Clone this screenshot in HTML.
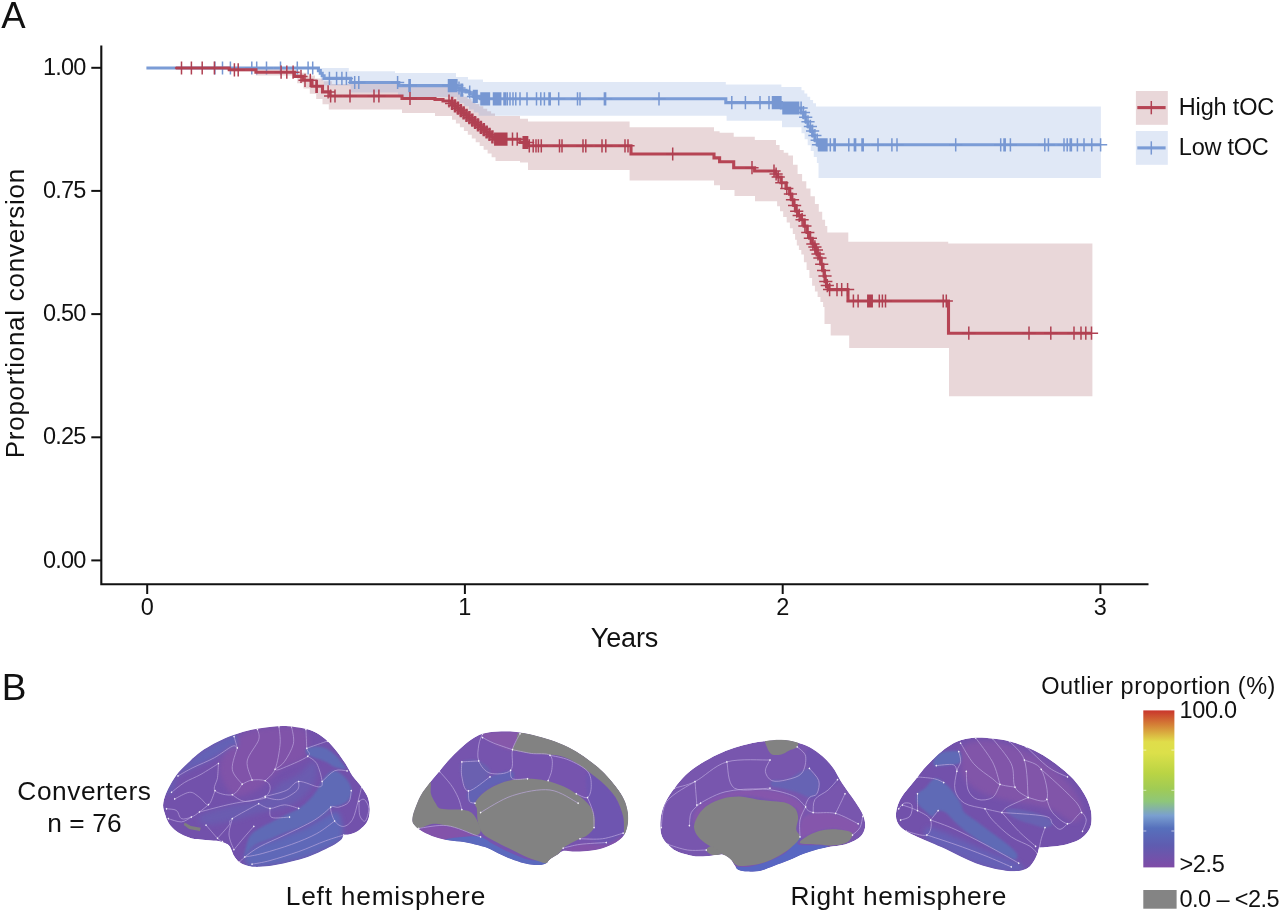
<!DOCTYPE html>
<html><head><meta charset="utf-8"><title>Figure</title>
<style>
html,body{margin:0;padding:0;background:#fff;}
svg{display:block;}
text{font-family:"Liberation Sans",Arial,sans-serif;fill:#111;}
</style></head>
<body>
<svg width="1280" height="913" viewBox="0 0 1280 913">
<defs>
<linearGradient id="cbar" x1="0" y1="0" x2="0" y2="1">
<stop offset="0" stop-color="#C9352C"/>
<stop offset="0.09" stop-color="#D47F36"/>
<stop offset="0.2" stop-color="#E0DD4A"/>
<stop offset="0.27" stop-color="#DCE04A"/>
<stop offset="0.40" stop-color="#BAD444"/>
<stop offset="0.50" stop-color="#A0CB55"/>
<stop offset="0.58" stop-color="#8EC67A"/>
<stop offset="0.67" stop-color="#7A9FD0"/>
<stop offset="0.75" stop-color="#5670BC"/>
<stop offset="0.86" stop-color="#5F5CB0"/>
<stop offset="1" stop-color="#7F4BA6"/>
</linearGradient>
</defs>
<rect width="1280" height="913" fill="#fff"/>
<g id="chart">
<path d="M175.7 68.0H294.0V70.0H298.2V72.8H306.6V75.6H315.0V78.4H323.4V81.2H331.8V84.0H402.0V85.5H450.0V87.0H452.0V89.4H455.9V91.8H459.8V94.2H463.7V96.7H467.6V99.1H471.5V101.5H475.5V103.9H479.4V106.3H483.3V108.8H487.2V111.2H491.1V113.6H495.0V116.0H520.0V118.7H528.0V121.4H629.6V127.3H714.0V131.3H719.6V132.8H733.7V136.7H754.8V140.0H774.2V140.0H776.0V145.0H779.6V150.0H783.7V152.8H788.3V155.6H793.0V164.8H797.6V174.0H802.1V181.2H806.3V188.4H810.5V196.2H814.9V204.0H818.8V211.8H822.2V219.7H825.1V226.1H827.3V232.5H848.3V241.8H948.2V243.6H1092.4V396.3H949.0V348.1H849.2V335.6H830.7V324.0H824.5V307.0H823.1V302.0H820.4V297.0H817.6V291.4H814.9V285.8H812.1V277.9H809.4V270.0H806.6V262.2H803.9V254.5H801.3V249.9H798.9V245.4H796.8V239.7H795.1V234.0H792.8V228.3H789.9V222.6H786.7V216.9H783.2V211.2H780.0V206.2H777.1V201.2H775.7V201.2H755.0V196.0H734.5V190.0H720.0V185.3H714.0V180.6H629.6V170.0H528.0V162.6H520.0V161.0H495.5V157.2H491.6V153.5H487.6V149.8H483.6V146.0H479.7V142.2H475.7V138.5H471.8V134.8H467.8V131.0H463.9V127.2H459.9V123.5H455.9V119.8H452.0V116.0H450.0V116.0H435.0V113.0H402.0V109.4H328.8V104.2H322.5V98.9H316.2V93.7H309.8V88.5H303.5V83.2H297.2V78.0H294.0V75.5H255.9V71.5H229.3V68.0Z" fill="#9B4952" fill-opacity="0.22"/>
<path d="M146.4 68.0H348.8V71.2H395.0V73.0H456.0V77.0H468.0V79.4H483.0V81.9H725.8V84.6H781.4V87.0H800.0V87.0H801.5V90.3H804.4V93.5H807.3V96.8H810.2V100.1H813.1V103.3H816.0V106.6H1100.9V177.9H818.5V163.0H816.9V157.1H813.8V151.1H810.7V145.2H807.7V139.2H804.6V133.2H801.5V127.3H800.0V127.3H782.0V120.8H726.6V115.8H478.6V112.6H473.8V109.5H469.0V106.3H464.2V103.2H459.4V100.0H457.0V97.0H398.0V92.5H350.6V85.6H323.8V80.4H321.2V75.2H318.8V70.0H317.5V68.0Z" fill="#7B9CD6" fill-opacity="0.23"/>
<path d="M146.4 68.0H317.5V68.0H318.4V70.6H320.3V73.2H322.2V75.8H324.1V78.4H350.6V82.5H398.8V85.6H457.0V88.0H460.0V90.2H466.0V92.0H469.7V94.0H473.0V96.4H480.5V98.8H725.8V102.6H781.4V108.0H800.0V108.0H801.1V112.6H803.5V117.2H805.8V121.8H808.0V126.4H810.4V131.0H812.6V135.6H814.9V140.2H817.2V144.8H1100.6V144.8" fill="none" stroke="#7B9CD6" stroke-width="3.1"/>
<path d="M214.9 61.4v13.2M208.3 68.0h13.2M222.5 61.4v13.2M215.9 68.0h13.2M230.4 61.4v13.2M223.8 68.0h13.2M251.8 61.4v13.2M245.2 68.0h13.2M256.7 61.4v13.2M250.1 68.0h13.2M266.5 61.4v13.2M259.9 68.0h13.2M280.5 61.4v13.2M273.9 68.0h13.2M297.3 61.4v13.2M290.7 68.0h13.2M308.1 61.4v13.2M301.5 68.0h13.2M312.7 61.4v13.2M306.1 68.0h13.2M329.4 71.8v13.2M322.8 78.4h13.2M336.6 71.8v13.2M330.0 78.4h13.2M341.9 71.8v13.2M335.3 78.4h13.2M346.4 71.8v13.2M339.8 78.4h13.2M354.7 75.9v13.2M348.1 82.5h13.2M358.8 75.9v13.2M352.1 82.5h13.2M397.6 75.9v13.2M391.0 82.5h13.2M409.0 79.0v13.2M402.4 85.6h13.2M410.2 79.0v13.2M403.6 85.6h13.2M448.5 79.0v13.2M441.9 85.6h13.2M449.7 79.0v13.2M443.1 85.6h13.2M450.9 79.0v13.2M444.3 85.6h13.2M452.1 79.0v13.2M445.5 85.6h13.2M453.3 79.0v13.2M446.7 85.6h13.2M454.5 79.0v13.2M447.9 85.6h13.2M455.7 79.0v13.2M449.1 85.6h13.2M456.9 79.0v13.2M450.3 85.6h13.2M459.0 81.4v13.2M452.4 88.0h13.2M461.0 83.6v13.2M454.4 90.2h13.2M462.5 83.6v13.2M455.9 90.2h13.2M469.7 85.4v13.2M463.1 92.0h13.2M473.5 89.8v13.2M466.9 96.4h13.2M474.7 89.8v13.2M468.1 96.4h13.2M475.9 89.8v13.2M469.3 96.4h13.2M477.1 89.8v13.2M470.5 96.4h13.2M481.0 92.2v13.2M474.4 98.8h13.2M482.2 92.2v13.2M475.6 98.8h13.2M483.4 92.2v13.2M476.8 98.8h13.2M484.6 92.2v13.2M478.0 98.8h13.2M485.8 92.2v13.2M479.2 98.8h13.2M487.0 92.2v13.2M480.4 98.8h13.2M488.2 92.2v13.2M481.6 98.8h13.2M489.4 92.2v13.2M482.8 98.8h13.2M493.5 92.2v13.2M486.9 98.8h13.2M494.7 92.2v13.2M488.1 98.8h13.2M495.9 92.2v13.2M489.3 98.8h13.2M497.1 92.2v13.2M490.5 98.8h13.2M498.3 92.2v13.2M491.7 98.8h13.2M499.5 92.2v13.2M492.9 98.8h13.2M500.7 92.2v13.2M494.1 98.8h13.2M504.0 92.2v13.2M497.4 98.8h13.2M505.5 92.2v13.2M498.9 98.8h13.2M507.3 92.2v13.2M500.7 98.8h13.2M510.0 92.2v13.2M503.4 98.8h13.2M513.0 92.2v13.2M506.4 98.8h13.2M515.8 92.2v13.2M509.2 98.8h13.2M520.0 92.2v13.2M513.4 98.8h13.2M527.0 92.2v13.2M520.4 98.8h13.2M536.5 92.2v13.2M529.9 98.8h13.2M540.8 92.2v13.2M534.2 98.8h13.2M544.4 92.2v13.2M537.8 98.8h13.2M549.0 92.2v13.2M542.4 98.8h13.2M550.2 92.2v13.2M543.6 98.8h13.2M558.7 92.2v13.2M552.1 98.8h13.2M577.5 92.2v13.2M570.9 98.8h13.2M580.0 92.2v13.2M573.4 98.8h13.2M604.4 92.2v13.2M597.8 98.8h13.2M605.6 92.2v13.2M599.0 98.8h13.2M659.0 92.2v13.2M652.4 98.8h13.2M731.8 96.0v13.2M725.2 102.6h13.2M745.4 96.0v13.2M738.8 102.6h13.2M760.0 96.0v13.2M753.4 102.6h13.2M769.0 96.0v13.2M762.4 102.6h13.2M772.5 96.0v13.2M765.9 102.6h13.2M773.7 96.0v13.2M767.1 102.6h13.2M774.9 96.0v13.2M768.3 102.6h13.2M776.1 96.0v13.2M769.5 102.6h13.2M777.3 96.0v13.2M770.7 102.6h13.2M778.5 96.0v13.2M771.9 102.6h13.2M779.7 96.0v13.2M773.1 102.6h13.2M780.9 96.0v13.2M774.3 102.6h13.2M783.0 101.4v13.2M776.4 108.0h13.2M784.2 101.4v13.2M777.6 108.0h13.2M785.4 101.4v13.2M778.8 108.0h13.2M786.6 101.4v13.2M780.0 108.0h13.2M787.8 101.4v13.2M781.2 108.0h13.2M789.0 101.4v13.2M782.4 108.0h13.2M790.2 101.4v13.2M783.6 108.0h13.2M791.4 101.4v13.2M784.8 108.0h13.2M792.6 101.4v13.2M786.0 108.0h13.2M793.8 101.4v13.2M787.2 108.0h13.2M795.0 101.4v13.2M788.4 108.0h13.2M796.2 101.4v13.2M789.6 108.0h13.2M797.4 101.4v13.2M790.8 108.0h13.2M798.6 101.4v13.2M792.0 108.0h13.2M801.1 101.4v13.2M794.5 108.0h13.2M803.5 106.0v13.2M796.9 112.6h13.2M805.8 110.6v13.2M799.1 117.2h13.2M808.0 115.2v13.2M801.4 121.8h13.2M810.4 119.8v13.2M803.8 126.4h13.2M812.6 124.4v13.2M806.0 131.0h13.2M814.9 129.0v13.2M808.3 135.6h13.2M817.2 133.6v13.2M810.6 140.2h13.2M818.5 138.2v13.2M811.9 144.8h13.2M819.7 138.2v13.2M813.1 144.8h13.2M820.9 138.2v13.2M814.3 144.8h13.2M822.1 138.2v13.2M815.5 144.8h13.2M823.3 138.2v13.2M816.7 144.8h13.2M824.5 138.2v13.2M817.9 144.8h13.2M825.7 138.2v13.2M819.1 144.8h13.2M826.9 138.2v13.2M820.3 144.8h13.2M830.3 138.2v13.2M823.7 144.8h13.2M834.0 138.2v13.2M827.4 144.8h13.2M835.2 138.2v13.2M828.6 144.8h13.2M848.8 138.2v13.2M842.2 144.8h13.2M854.4 138.2v13.2M847.8 144.8h13.2M855.6 138.2v13.2M849.0 144.8h13.2M862.0 138.2v13.2M855.4 144.8h13.2M863.2 138.2v13.2M856.6 144.8h13.2M878.0 138.2v13.2M871.4 144.8h13.2M891.9 138.2v13.2M885.3 144.8h13.2M897.0 138.2v13.2M890.4 144.8h13.2M955.7 138.2v13.2M949.1 144.8h13.2M1000.7 138.2v13.2M994.1 144.8h13.2M1004.0 138.2v13.2M997.4 144.8h13.2M1005.2 138.2v13.2M998.6 144.8h13.2M1010.4 138.2v13.2M1003.8 144.8h13.2M1044.8 138.2v13.2M1038.2 144.8h13.2M1048.4 138.2v13.2M1041.8 144.8h13.2M1064.0 138.2v13.2M1057.4 144.8h13.2M1067.2 138.2v13.2M1060.6 144.8h13.2M1070.2 138.2v13.2M1063.6 144.8h13.2M1071.4 138.2v13.2M1064.8 144.8h13.2M1077.4 138.2v13.2M1070.8 144.8h13.2M1084.0 138.2v13.2M1077.4 144.8h13.2M1091.8 138.2v13.2M1085.2 144.8h13.2M1100.6 138.2v13.2M1094.0 144.8h13.2" fill="none" stroke="#7797D2" stroke-width="1.5"/>
<path d="M175.7 68.0H229.3V69.8H255.9V72.2H294.4V76.4H303.0V80.3H312.0V86.3H322.5V91.9H330.0V96.0H402.0V98.5H435.0V99.5H443.0V101.0H450.0V101.0H451.4V103.4H454.3V105.8H457.2V108.2H460.1V110.5H462.9V112.9H465.8V115.3H468.7V117.7H471.6V120.1H474.4V122.5H477.3V124.9H480.2V127.3H483.1V129.6H485.9V132.0H488.8V134.4H491.7V136.8H494.6V139.2H520.0V142.5H528.0V145.8H631.0V154.0H714.0V157.9H719.6V161.8H733.7V167.7H754.6V171.0H774.2V171.0H775.3V174.0H777.4V177.0H781.0V182.7H786.0V188.4H789.6V194.1H791.7V199.8H793.8V205.5H796.0V211.2H798.4V215.4H801.3V219.7H804.1V226.1H807.0V232.5H809.6V238.2H812.1V243.9H814.1V246.9H815.6V250.0H817.2V254.0H819.1V258.0H821.0V264.3H822.8V270.6H824.2V276.1H825.0V281.6H826.5V285.6H828.9V289.6H848.0V301.0H948.5V333.2H1092.0V333.2" fill="none" stroke="#B64454" stroke-width="3.1"/>
<path d="M181.5 61.4v13.2M174.9 68.0h13.2M191.4 61.4v13.2M184.8 68.0h13.2M202.2 61.4v13.2M195.6 68.0h13.2M214.4 61.4v13.2M207.8 68.0h13.2M234.4 63.2v13.2M227.8 69.8h13.2M238.2 63.2v13.2M231.6 69.8h13.2M281.1 65.6v13.2M274.5 72.2h13.2M286.8 65.6v13.2M280.1 72.2h13.2M293.1 65.6v13.2M286.5 72.2h13.2M301.0 69.8v13.2M294.4 76.4h13.2M305.0 73.7v13.2M298.4 80.3h13.2M310.3 73.7v13.2M303.7 80.3h13.2M316.0 79.7v13.2M309.4 86.3h13.2M317.2 79.7v13.2M310.6 86.3h13.2M328.1 85.3v13.2M321.5 91.9h13.2M330.6 89.4v13.2M324.0 96.0h13.2M335.0 89.4v13.2M328.4 96.0h13.2M350.0 89.4v13.2M343.4 96.0h13.2M374.0 89.4v13.2M367.4 96.0h13.2M378.9 89.4v13.2M372.3 96.0h13.2M410.0 91.9v13.2M403.4 98.5h13.2M449.0 94.4v13.2M442.4 101.0h13.2M455.5 99.2v13.2M448.9 105.8h13.2M458.0 101.6v13.2M451.4 108.2h13.2M452.6 96.8v13.2M446.0 103.4h13.2M455.5 99.2v13.2M448.9 105.8h13.2M458.4 101.6v13.2M451.8 108.2h13.2M461.3 104.0v13.2M454.7 110.5h13.2M464.1 106.3v13.2M457.5 112.9h13.2M467.0 108.7v13.2M460.4 115.3h13.2M469.9 111.1v13.2M463.3 117.7h13.2M472.8 113.5v13.2M466.2 120.1h13.2M475.6 115.9v13.2M469.0 122.5h13.2M478.5 118.3v13.2M471.9 124.9h13.2M481.4 120.7v13.2M474.8 127.3h13.2M484.3 123.0v13.2M477.7 129.6h13.2M487.1 125.4v13.2M480.5 132.0h13.2M490.0 127.8v13.2M483.4 134.4h13.2M492.9 130.2v13.2M486.3 136.8h13.2M495.8 132.6v13.2M489.2 139.2h13.2M451.6 96.8v13.2M445.0 103.4h13.2M454.5 99.2v13.2M447.9 105.8h13.2M457.4 101.6v13.2M450.8 108.2h13.2M460.3 104.0v13.2M453.7 110.5h13.2M463.1 106.3v13.2M456.5 112.9h13.2M466.0 108.7v13.2M459.4 115.3h13.2M468.9 111.1v13.2M462.3 117.7h13.2M471.8 113.5v13.2M465.2 120.1h13.2M474.6 115.9v13.2M468.0 122.5h13.2M477.5 118.3v13.2M470.9 124.9h13.2M480.4 120.7v13.2M473.8 127.3h13.2M483.3 123.0v13.2M476.7 129.6h13.2M486.1 125.4v13.2M479.5 132.0h13.2M489.0 127.8v13.2M482.4 134.4h13.2M491.9 130.2v13.2M485.3 136.8h13.2M494.8 132.6v13.2M488.2 139.2h13.2M496.0 132.6v13.2M489.4 139.2h13.2M497.2 132.6v13.2M490.6 139.2h13.2M498.4 132.6v13.2M491.8 139.2h13.2M499.6 132.6v13.2M493.0 139.2h13.2M500.8 132.6v13.2M494.2 139.2h13.2M502.0 132.6v13.2M495.4 139.2h13.2M503.2 132.6v13.2M496.6 139.2h13.2M504.4 132.6v13.2M497.8 139.2h13.2M505.6 132.6v13.2M499.0 139.2h13.2M506.8 132.6v13.2M500.2 139.2h13.2M512.5 132.6v13.2M505.9 139.2h13.2M517.2 132.6v13.2M510.6 139.2h13.2M523.2 135.9v13.2M516.6 142.5h13.2M524.3 135.9v13.2M517.7 142.5h13.2M525.4 135.9v13.2M518.8 142.5h13.2M526.5 135.9v13.2M519.9 142.5h13.2M527.6 135.9v13.2M521.0 142.5h13.2M529.3 139.2v13.2M522.7 145.8h13.2M533.2 139.2v13.2M526.6 145.8h13.2M536.0 139.2v13.2M529.4 145.8h13.2M538.4 139.2v13.2M531.8 145.8h13.2M541.3 139.2v13.2M534.7 145.8h13.2M559.5 139.2v13.2M552.9 145.8h13.2M562.0 139.2v13.2M555.4 145.8h13.2M583.0 139.2v13.2M576.4 145.8h13.2M585.8 139.2v13.2M579.2 145.8h13.2M602.0 139.2v13.2M595.4 145.8h13.2M605.8 139.2v13.2M599.2 145.8h13.2M625.0 139.2v13.2M618.4 145.8h13.2M628.0 139.2v13.2M621.4 145.8h13.2M672.7 147.4v13.2M666.1 154.0h13.2M752.0 161.1v13.2M745.4 167.7h13.2M774.0 164.4v13.2M767.4 171.0h13.2M776.1 167.4v13.2M769.5 174.0h13.2M778.2 170.4v13.2M771.6 177.0h13.2M781.8 176.1v13.2M775.2 182.7h13.2M786.8 181.8v13.2M780.2 188.4h13.2M790.4 187.5v13.2M783.8 194.1h13.2M792.5 193.2v13.2M785.9 199.8h13.2M794.6 198.9v13.2M788.0 205.5h13.2M796.8 204.6v13.2M790.1 211.2h13.2M799.2 208.8v13.2M792.6 215.4h13.2M802.1 213.1v13.2M795.5 219.7h13.2M804.9 219.5v13.2M798.3 226.1h13.2M807.8 225.9v13.2M801.2 232.5h13.2M810.4 231.6v13.2M803.8 238.2h13.2M812.9 237.3v13.2M806.3 243.9h13.2M814.9 240.3v13.2M808.3 246.9h13.2M816.4 243.4v13.2M809.8 250.0h13.2M818.0 247.4v13.2M811.4 254.0h13.2M819.9 251.4v13.2M813.3 258.0h13.2M821.8 257.7v13.2M815.1 264.3h13.2M823.6 264.0v13.2M817.0 270.6h13.2M825.0 269.5v13.2M818.4 276.1h13.2M825.8 275.0v13.2M819.2 281.6h13.2M827.3 279.0v13.2M820.7 285.6h13.2M829.6 283.0v13.2M823.0 289.6h13.2M837.0 283.0v13.2M830.4 289.6h13.2M841.7 283.0v13.2M835.1 289.6h13.2M847.6 283.0v13.2M841.0 289.6h13.2M853.4 294.4v13.2M846.8 301.0h13.2M858.1 294.4v13.2M851.5 301.0h13.2M867.8 294.4v13.2M861.2 301.0h13.2M868.9 294.4v13.2M862.3 301.0h13.2M870.0 294.4v13.2M863.4 301.0h13.2M871.1 294.4v13.2M864.5 301.0h13.2M872.2 294.4v13.2M865.6 301.0h13.2M879.3 294.4v13.2M872.7 301.0h13.2M882.4 294.4v13.2M875.8 301.0h13.2M885.5 294.4v13.2M878.9 301.0h13.2M943.2 294.4v13.2M936.6 301.0h13.2M946.3 294.4v13.2M939.7 301.0h13.2M968.8 326.6v13.2M962.2 333.2h13.2M1029.0 326.6v13.2M1022.4 333.2h13.2M1050.8 326.6v13.2M1044.2 333.2h13.2M1074.0 326.6v13.2M1067.4 333.2h13.2M1081.0 326.6v13.2M1074.4 333.2h13.2M1085.8 326.6v13.2M1079.2 333.2h13.2M1091.5 326.6v13.2M1084.9 333.2h13.2" fill="none" stroke="#B04052" stroke-width="1.5"/>
</g>
<g id="axes">
<path d="M101.3 45.5V584.3H1148.5" fill="none" stroke="#111" stroke-width="2.1" stroke-linejoin="miter"/>
<path d="M91.3 67.8H101.3" stroke="#111" stroke-width="2"/>
<text x="86.4" y="74.89999999999999" font-size="23.5" text-anchor="end" textLength="43.5" lengthAdjust="spacing">1.00</text>
<path d="M91.3 190.9H101.3" stroke="#111" stroke-width="2"/>
<text x="86.4" y="198.0" font-size="23.5" text-anchor="end" textLength="43.5" lengthAdjust="spacing">0.75</text>
<path d="M91.3 314.1H101.3" stroke="#111" stroke-width="2"/>
<text x="86.4" y="321.20000000000005" font-size="23.5" text-anchor="end" textLength="43.5" lengthAdjust="spacing">0.50</text>
<path d="M91.3 437.3H101.3" stroke="#111" stroke-width="2"/>
<text x="86.4" y="444.40000000000003" font-size="23.5" text-anchor="end" textLength="43.5" lengthAdjust="spacing">0.25</text>
<path d="M91.3 560.4H101.3" stroke="#111" stroke-width="2"/>
<text x="86.4" y="567.5" font-size="23.5" text-anchor="end" textLength="43.5" lengthAdjust="spacing">0.00</text>
<path d="M147.2 584.3V594" stroke="#111" stroke-width="2"/>
<text x="147.2" y="615.2" font-size="23.5" text-anchor="middle">0</text>
<path d="M464.9 584.3V594" stroke="#111" stroke-width="2"/>
<text x="464.9" y="615.2" font-size="23.5" text-anchor="middle">1</text>
<path d="M782.7 584.3V594" stroke="#111" stroke-width="2"/>
<text x="782.7" y="615.2" font-size="23.5" text-anchor="middle">2</text>
<path d="M1100.4 584.3V594" stroke="#111" stroke-width="2"/>
<text x="1100.4" y="615.2" font-size="23.5" text-anchor="middle">3</text>
<text x="590.8" y="647.4" font-size="27" text-anchor="start" textLength="67.5" lengthAdjust="spacing">Years</text>
<text transform="translate(24 458.3) rotate(-90)" font-size="26" textLength="289.5" lengthAdjust="spacing">Proportional conversion</text>
<text x="1.3" y="28.2" font-size="36.5" text-anchor="start" textLength="24.3" lengthAdjust="spacing">A</text>
<text x="1.7" y="699.8" font-size="37" text-anchor="start" textLength="24.5" lengthAdjust="spacing">B</text>
</g>
<g id="legend">
<rect x="1135.9" y="91" width="31.9" height="33.8" fill="#9B4952" fill-opacity="0.22"/>
<path d="M1137.3 107.6H1165.6" stroke="#B64454" stroke-width="3.1"/>
<path d="M1151.3 101V114.3" stroke="#B04052" stroke-width="1.5"/>
<rect x="1135.9" y="131" width="31.9" height="33.8" fill="#7B9CD6" fill-opacity="0.23"/>
<path d="M1137.3 147.9H1165.6" stroke="#7B9CD6" stroke-width="3.1"/>
<path d="M1151.3 141.3V154.6" stroke="#7797D2" stroke-width="1.5"/>
<text x="1178.8" y="114.5" font-size="23.5" text-anchor="start" textLength="95.5" lengthAdjust="spacing">High tOC</text>
<text x="1178.8" y="154.7" font-size="23.5" text-anchor="start" textLength="90" lengthAdjust="spacing">Low tOC</text>
</g>
<g id="brains">
<defs><filter id="bl" x="-20%" y="-20%" width="140%" height="140%"><feGaussianBlur stdDeviation="14"/></filter><filter id="bl2" x="-20%" y="-20%" width="140%" height="140%"><feGaussianBlur stdDeviation="5"/></filter></defs>
<g transform="translate(155 715) scale(0.17969)"><clipPath id="c1"><path d="M45 500C46 482 52 460 60 440C68 420 78 400 90 380C102 360 115 338 130 320C145 302 162 288 180 270C198 252 218 232 240 215C262 198 285 184 310 170C335 156 363 142 390 130C417 118 442 109 470 100C498 91 530 84 560 78C590 72 620 68 650 65C680 62 710 60 740 62C770 64 803 69 830 75C857 81 878 88 900 100C922 112 942 128 960 145C978 162 993 179 1010 200C1027 221 1045 247 1060 270C1075 293 1085 318 1100 340C1115 362 1136 380 1150 400C1164 420 1178 440 1185 460C1192 480 1194 502 1195 520C1196 538 1194 555 1190 570C1186 585 1180 598 1170 610C1160 622 1145 636 1130 645C1115 654 1093 661 1080 665C1067 669 1057 664 1050 668C1043 672 1048 681 1040 690C1032 699 1018 709 1000 720C982 731 955 743 930 755C905 767 878 780 850 790C822 800 790 808 760 815C730 822 700 830 670 835C640 840 605 844 580 845C555 846 538 844 520 840C502 836 483 829 470 820C457 811 448 797 440 785C432 773 430 760 425 750C420 740 418 732 410 725C402 718 392 714 380 710C368 706 357 702 340 700C323 698 300 697 280 695C260 693 240 694 220 690C200 686 178 678 160 670C142 662 124 652 110 640C96 628 84 615 75 600C66 585 60 567 55 550C50 533 44 518 45 500Z"/></clipPath><g clip-path="url(#c1)"><path d="M45 500C46 482 52 460 60 440C68 420 78 400 90 380C102 360 115 338 130 320C145 302 162 288 180 270C198 252 218 232 240 215C262 198 285 184 310 170C335 156 363 142 390 130C417 118 442 109 470 100C498 91 530 84 560 78C590 72 620 68 650 65C680 62 710 60 740 62C770 64 803 69 830 75C857 81 878 88 900 100C922 112 942 128 960 145C978 162 993 179 1010 200C1027 221 1045 247 1060 270C1075 293 1085 318 1100 340C1115 362 1136 380 1150 400C1164 420 1178 440 1185 460C1192 480 1194 502 1195 520C1196 538 1194 555 1190 570C1186 585 1180 598 1170 610C1160 622 1145 636 1130 645C1115 654 1093 661 1080 665C1067 669 1057 664 1050 668C1043 672 1048 681 1040 690C1032 699 1018 709 1000 720C982 731 955 743 930 755C905 767 878 780 850 790C822 800 790 808 760 815C730 822 700 830 670 835C640 840 605 844 580 845C555 846 538 844 520 840C502 836 483 829 470 820C457 811 448 797 440 785C432 773 430 760 425 750C420 740 418 732 410 725C402 718 392 714 380 710C368 706 357 702 340 700C323 698 300 697 280 695C260 693 240 694 220 690C200 686 178 678 160 670C142 662 124 652 110 640C96 628 84 615 75 600C66 585 60 567 55 550C50 533 44 518 45 500Z" fill="#7251AB"/><g filter="url(#bl)"><path d="M480 110C528 75 592 75 650 70C708 65 798 53 830 80C862 107 862 193 840 230C818 267 747 268 700 300C653 332 605 397 560 420C515 443 463 463 430 440C397 417 352 335 360 280C368 225 432 145 480 110Z" fill="#8052A9"/><path d="M60 440C59 433 78 400 90 380C102 360 115 338 130 320C145 302 162 288 180 270C198 252 218 232 240 215C262 198 285 184 310 170C335 156 367 141 390 130C413 119 439 96 450 105C461 114 461 172 458 183C455 194 451 165 430 174C409 183 366 218 330 238C294 258 245 276 211 293C177 310 147 318 128 339C109 360 106 403 95 420C84 437 61 447 60 440Z" fill="#6462B6"/><path d="M250 560C270 543 348 523 400 510C452 497 520 492 560 480C600 468 617 457 640 440C663 423 673 398 700 380C727 362 770 350 800 330C830 310 863 260 880 260C897 260 903 303 900 330C897 357 883 392 860 420C837 448 803 480 760 500C717 520 657 525 600 540C543 555 473 578 420 590C367 602 308 615 280 610C252 605 230 577 250 560Z" fill="#6A5CB0"/><path d="M500 790C507 772 527 748 560 730C593 712 652 698 700 680C748 662 800 643 850 620C900 597 968 543 1000 540C1032 537 1033 575 1040 600C1047 625 1047 670 1040 690C1033 710 1018 709 1000 720C982 731 955 743 930 755C905 767 878 780 850 790C822 800 790 808 760 815C730 822 700 830 670 835C640 840 605 844 580 845C555 846 533 849 520 840C507 831 493 808 500 790Z" fill="#5F67B8"/></g><g filter="url(#bl2)"><path d="M845 185C854 178 881 174 900 175C919 176 942 181 960 190C978 199 995 215 1010 230C1025 245 1042 268 1050 280C1058 292 1068 298 1060 300C1052 302 1018 297 1000 290C982 283 970 269 950 260C930 251 898 242 880 235C862 228 851 223 845 215C839 207 836 192 845 185Z" fill="#5F6AB6"/><path d="M1000 310C1015 312 1035 325 1050 340C1065 355 1084 380 1090 400C1096 420 1093 443 1085 460C1077 477 1058 491 1040 500C1022 509 993 508 980 515C967 522 973 529 960 540C947 551 923 567 900 580C877 593 847 608 820 620C793 632 770 638 740 650C710 662 670 678 640 690C610 702 580 708 560 720C540 732 530 748 520 760C510 772 502 797 500 790C498 783 503 742 510 720C517 698 522 678 540 660C558 642 590 627 620 610C650 593 690 575 720 560C750 545 777 535 800 520C823 505 843 487 860 470C877 453 888 437 900 420C912 403 920 385 930 370C940 355 948 340 960 330C972 320 985 308 1000 310Z" fill="#5F6AB6"/></g><path d="M128 339C142 331 177 310 211 293C245 276 294 258 330 238C366 218 409 183 430 174C451 165 453 182 458 183M92 430C104 421 138 392 165 375C192 358 225 348 256 330C287 312 337 280 353 270M353 270C352 283 351 323 348 348C345 373 320 405 334 421C348 437 405 450 430 444C455 438 476 395 485 385M110 467C124 461 169 432 192 430C215 428 229 446 247 458C265 470 284 505 298 499C312 493 328 434 334 421M64 522C73 524 105 522 119 531C133 540 133 571 147 577C161 583 185 574 202 568C219 562 231 552 247 540C263 528 290 506 298 499M74 577C86 580 126 596 147 595C168 594 193 572 202 568M247 540C278 532 372 506 430 494C488 482 564 473 595 467C626 461 610 460 613 458M284 613C295 625 333 671 348 686C363 701 370 702 375 705M348 686C359 674 398 631 412 613C426 595 402 597 430 577C458 557 552 508 577 494M430 577C427 592 410 639 412 668C414 697 434 736 439 750M485 385C494 381 519 365 540 362C561 359 596 359 613 366C630 373 641 388 641 403C641 418 636 440 613 453C590 466 534 482 503 481C472 480 442 450 430 444M458 183C453 203 426 268 430 302C434 336 476 371 485 385M440 120C443 130 455 172 458 183M540 362C536 344 507 293 513 256C519 219 568 167 577 138C586 109 571 90 570 80M613 366C622 355 654 336 668 302C682 268 692 204 696 165C700 126 691 82 690 65M760 65C762 81 777 128 770 160C763 192 737 236 720 260C703 284 677 295 668 302M840 80C841 98 843 160 845 185C847 210 874 211 850 230C826 249 730 288 700 300C670 312 673 302 668 302M850 230C858 237 887 247 900 270C913 293 928 348 930 370C932 392 932 400 910 400C888 400 830 367 800 370C770 373 761 406 730 420C699 434 632 448 613 453M960 145C941 152 864 178 845 185M1069 311C1058 311 1023 300 1000 310C977 320 942 360 930 370M1092 421C1090 432 1090 470 1078 485C1066 500 1040 508 1023 513C1006 518 982 500 978 513C974 526 988 572 1000 590C1012 608 1033 622 1050 620C1067 618 1087 603 1100 580C1113 557 1122 510 1130 480C1138 450 1147 413 1150 400M978 513C963 525 929 560 886 586C843 612 772 644 722 668C672 692 621 712 584 732C547 752 519 775 500 790C481 805 475 815 470 820M1000 590C983 602 940 638 900 660C860 682 810 702 760 720C710 738 643 758 600 770C557 782 517 787 500 790M1050 668C1033 673 992 685 950 700C908 715 852 742 800 760C748 778 683 798 640 810C597 822 557 827 540 830M577 494C588 498 616 519 640 520C664 521 693 500 720 500C747 500 787 517 800 520M550 620C538 633 498 678 480 700C462 722 446 742 439 750M640 520C642 528 632 562 650 570C668 578 732 568 749 568M800 370C798 378 807 403 790 420C773 437 730 464 700 470C670 476 628 460 613 458M1135 480C1140 478 1156 463 1165 470C1174 477 1189 500 1190 520C1191 540 1178 583 1170 590C1162 597 1146 578 1140 560C1134 542 1136 493 1135 480" fill="none" stroke="#BFABE0" stroke-width="4.2" stroke-opacity="0.85" stroke-linecap="round"/><path d="M123 339l5 -6l5 6l-5 6ZM453 183l5 -6l5 6l-5 6ZM87 430l5 -6l5 6l-5 6ZM348 270l5 -6l5 6l-5 6ZM480 385l5 -6l5 6l-5 6ZM105 467l5 -6l5 6l-5 6ZM329 421l5 -6l5 6l-5 6ZM59 522l5 -6l5 6l-5 6ZM293 499l5 -6l5 6l-5 6ZM69 577l5 -6l5 6l-5 6ZM197 568l5 -6l5 6l-5 6ZM242 540l5 -6l5 6l-5 6ZM608 458l5 -6l5 6l-5 6ZM279 613l5 -6l5 6l-5 6ZM370 705l5 -6l5 6l-5 6ZM343 686l5 -6l5 6l-5 6ZM572 494l5 -6l5 6l-5 6ZM425 577l5 -6l5 6l-5 6ZM434 750l5 -6l5 6l-5 6ZM425 444l5 -6l5 6l-5 6ZM435 120l5 -6l5 6l-5 6ZM535 362l5 -6l5 6l-5 6ZM565 80l5 -6l5 6l-5 6ZM608 366l5 -6l5 6l-5 6ZM685 65l5 -6l5 6l-5 6ZM755 65l5 -6l5 6l-5 6ZM663 302l5 -6l5 6l-5 6ZM835 80l5 -6l5 6l-5 6ZM845 230l5 -6l5 6l-5 6ZM608 453l5 -6l5 6l-5 6ZM955 145l5 -6l5 6l-5 6ZM840 185l5 -6l5 6l-5 6ZM1064 311l5 -6l5 6l-5 6ZM925 370l5 -6l5 6l-5 6ZM1087 421l5 -6l5 6l-5 6ZM1145 400l5 -6l5 6l-5 6ZM973 513l5 -6l5 6l-5 6ZM465 820l5 -6l5 6l-5 6ZM995 590l5 -6l5 6l-5 6ZM495 790l5 -6l5 6l-5 6ZM1045 668l5 -6l5 6l-5 6ZM535 830l5 -6l5 6l-5 6ZM795 520l5 -6l5 6l-5 6ZM545 620l5 -6l5 6l-5 6ZM635 520l5 -6l5 6l-5 6ZM744 568l5 -6l5 6l-5 6ZM795 370l5 -6l5 6l-5 6ZM1130 480l5 -6l5 6l-5 6Z" fill="#fff" fill-opacity="0.9"/><path d="M165 598L200 618L255 628L250 645L190 635L160 612Z" fill="#7E7E7E"/></g></g>
<g transform="translate(400 715) scale(0.1875)"><clipPath id="c2"><path d="M65 560C65 545 72 522 80 500C88 478 97 453 110 430C123 407 143 382 160 360C177 338 193 320 210 300C227 280 242 260 260 240C278 220 300 198 320 180C340 162 360 143 380 130C400 117 417 107 440 100C463 93 493 90 520 88C547 86 573 86 600 88C627 90 653 95 680 100C707 105 732 112 760 120C788 128 820 138 850 150C880 162 912 178 940 195C968 212 995 231 1020 250C1045 269 1068 288 1090 310C1112 332 1132 357 1150 380C1168 403 1184 427 1195 450C1206 473 1212 498 1215 520C1218 542 1218 560 1215 580C1212 600 1206 623 1195 640C1184 657 1169 668 1150 680C1131 692 1105 702 1080 710C1055 718 1027 722 1000 725C973 728 942 728 920 728C898 728 883 722 870 725C857 728 852 738 840 745C828 752 810 762 800 770C790 778 790 785 780 790C770 795 757 799 740 800C723 801 702 799 680 795C658 791 633 783 610 775C587 767 563 756 540 745C517 734 493 719 470 710C447 701 425 696 400 690C375 684 347 679 320 675C293 671 265 670 240 665C215 660 192 653 170 645C148 637 125 624 110 615C95 606 88 599 80 590C72 581 65 575 65 560Z"/></clipPath><g clip-path="url(#c2)"><path d="M65 560C65 545 72 522 80 500C88 478 97 453 110 430C123 407 143 382 160 360C177 338 193 320 210 300C227 280 242 260 260 240C278 220 300 198 320 180C340 162 360 143 380 130C400 117 417 107 440 100C463 93 493 90 520 88C547 86 573 86 600 88C627 90 653 95 680 100C707 105 732 112 760 120C788 128 820 138 850 150C880 162 912 178 940 195C968 212 995 231 1020 250C1045 269 1068 288 1090 310C1112 332 1132 357 1150 380C1168 403 1184 427 1195 450C1206 473 1212 498 1215 520C1218 542 1218 560 1215 580C1212 600 1206 623 1195 640C1184 657 1169 668 1150 680C1131 692 1105 702 1080 710C1055 718 1027 722 1000 725C973 728 942 728 920 728C898 728 883 722 870 725C857 728 852 738 840 745C828 752 810 762 800 770C790 778 790 785 780 790C770 795 757 799 740 800C723 801 702 799 680 795C658 791 633 783 610 775C587 767 563 756 540 745C517 734 493 719 470 710C447 701 425 696 400 690C375 684 347 679 320 675C293 671 265 670 240 665C215 660 192 653 170 645C148 637 125 624 110 615C95 606 88 599 80 590C72 581 65 575 65 560Z" fill="#7654AE"/><g filter="url(#bl2)"><path d="M440 100C457 90 567 90 600 90C633 90 640 84 640 100C640 116 623 177 600 185C577 193 527 164 500 150C473 136 423 110 440 100Z" fill="#8658AA"/><path d="M330 250C345 236 395 235 420 245C445 255 489 284 480 310C471 336 390 397 365 400C340 403 336 355 330 330C324 305 315 264 330 250Z" fill="#6B60B0"/><path d="M365 410C383 388 442 348 480 330C518 312 570 298 590 300C610 302 615 327 600 340C585 353 527 367 500 380C473 393 457 405 440 420C423 435 412 463 400 470C388 477 376 470 370 460C364 450 347 432 365 410Z" fill="#6262B4"/><path d="M1000 310C1015 298 1065 348 1090 370C1115 392 1133 412 1150 440C1167 468 1182 507 1190 540C1198 573 1210 615 1195 640C1180 665 1132 690 1100 690C1068 690 1011 667 1000 640C989 613 1035 563 1035 530C1035 497 1006 477 1000 440C994 403 985 322 1000 310Z" fill="#6E55B0"/><path d="M100 610C113 600 200 585 250 590C300 595 370 630 400 640C430 650 442 648 430 650C418 652 362 652 330 655C298 658 267 669 240 668C213 667 193 658 170 648C147 638 87 620 100 610Z" fill="#8353AA"/><path d="M870 725C863 719 922 696 960 690C998 684 1062 698 1100 690C1138 682 1182 640 1190 640C1198 640 1182 675 1150 690C1118 705 1047 722 1000 728C953 734 877 731 870 725Z" fill="#8353AA"/></g><path d="M240 665C242 660 298 652 330 650C362 648 402 643 430 650C458 657 475 677 500 690C525 703 550 717 580 730C610 743 647 762 680 770C713 778 763 776 780 780C797 784 787 791 780 795C773 799 757 804 740 805C723 806 702 804 680 800C658 796 633 788 610 780C587 772 563 761 540 750C517 739 493 724 470 715C447 706 425 701 400 695C375 689 347 685 320 680C293 675 238 670 240 665Z" fill="#5B69BE"/><path d="M640 95C663 91 725 109 760 118C795 127 820 136 850 148C880 160 912 176 940 193C968 210 995 229 1020 248C1045 267 1068 286 1090 308C1112 330 1132 354 1150 378C1168 402 1185 426 1197 450C1209 474 1216 498 1220 520C1224 542 1224 565 1220 585C1216 605 1202 648 1197 640C1192 632 1198 573 1190 540C1182 507 1167 468 1150 440C1133 412 1113 392 1090 370C1067 348 1037 325 1010 305C983 285 955 264 930 250C905 236 883 227 860 220C837 213 817 212 790 210C763 208 725 208 700 205C675 202 657 198 640 195C623 192 603 194 600 185C597 176 613 155 620 140C627 125 617 99 640 95Z" fill="#828282"/><path d="M400 470C405 457 423 435 440 420C457 405 477 392 500 380C523 368 550 357 580 350C610 343 647 340 680 340C713 340 748 343 780 350C812 357 843 368 870 380C897 392 918 405 940 420C962 435 984 452 1000 470C1016 488 1029 508 1035 530C1041 552 1041 582 1035 600C1029 618 1012 630 1000 640C988 650 977 652 960 660C943 668 915 682 900 690C885 698 880 701 870 710C860 719 852 735 840 745C828 755 810 762 800 770C790 778 790 788 780 790C770 792 760 787 740 780C720 773 687 762 660 750C633 738 607 723 580 710C553 697 523 683 500 670C477 657 454 647 440 630C426 613 420 592 415 570C410 548 412 517 410 500C408 483 395 483 400 470Z" fill="#828282"/><path d="M60 560C60 545 68 522 75 500C82 478 91 454 105 430C119 406 150 357 160 355C170 353 160 401 165 420C170 439 181 457 190 470C199 483 197 494 220 500C243 506 303 502 330 505C357 508 367 511 380 520C393 529 402 543 410 560C418 577 432 607 430 620C428 633 417 642 400 640C383 638 355 618 330 610C305 602 275 595 250 590C225 585 205 578 180 580C155 582 117 603 100 605C83 607 85 600 78 592C71 584 60 575 60 560Z" fill="#828282"/><path d="M440 100C437 110 423 136 420 160C417 184 410 220 420 245C430 270 452 302 480 310C508 318 570 316 590 295C610 274 592 218 600 185C608 152 633 114 640 100M440 120C450 125 473 139 500 150C527 161 583 179 600 185M330 250C345 249 405 246 420 245M330 250C330 263 324 304 330 330C336 356 340 405 365 405C390 405 461 342 480 330M210 300C220 312 253 347 270 370C287 393 300 418 310 440C320 462 327 494 330 505M365 405C366 414 364 449 370 460C376 471 395 468 400 470M590 295C592 302 585 332 600 340C615 348 667 340 680 340M600 185C617 188 667 200 700 205C733 210 782 201 800 215C818 229 812 268 810 290C808 312 793 340 790 350M800 215C817 219 867 226 900 240C933 254 980 277 1000 300C1020 323 1020 357 1020 380C1020 403 1013 433 1000 440C987 447 950 423 940 420M1000 440C1005 453 1024 493 1030 520C1036 547 1034 587 1035 600M960 660C980 660 1042 665 1080 660C1118 655 1172 635 1190 630M870 710C885 707 922 695 960 690C998 685 1077 682 1100 680M100 605C125 602 200 584 250 590C300 596 370 630 400 640C430 650 425 648 430 650M430 520C458 505 538 450 600 430C662 410 742 393 800 400C858 407 925 458 950 470" fill="none" stroke="#BFABE0" stroke-width="4.2" stroke-opacity="0.85" stroke-linecap="round"/><path d="M435 100l5 -6l5 6l-5 6ZM635 100l5 -6l5 6l-5 6ZM435 120l5 -6l5 6l-5 6ZM595 185l5 -6l5 6l-5 6ZM325 250l5 -6l5 6l-5 6ZM415 245l5 -6l5 6l-5 6ZM475 330l5 -6l5 6l-5 6ZM205 300l5 -6l5 6l-5 6ZM325 505l5 -6l5 6l-5 6ZM360 405l5 -6l5 6l-5 6ZM395 470l5 -6l5 6l-5 6ZM585 295l5 -6l5 6l-5 6ZM675 340l5 -6l5 6l-5 6ZM785 350l5 -6l5 6l-5 6ZM795 215l5 -6l5 6l-5 6ZM935 420l5 -6l5 6l-5 6ZM995 440l5 -6l5 6l-5 6ZM1030 600l5 -6l5 6l-5 6ZM955 660l5 -6l5 6l-5 6ZM1185 630l5 -6l5 6l-5 6ZM865 710l5 -6l5 6l-5 6ZM1095 680l5 -6l5 6l-5 6ZM95 605l5 -6l5 6l-5 6ZM425 650l5 -6l5 6l-5 6ZM425 520l5 -6l5 6l-5 6ZM945 470l5 -6l5 6l-5 6Z" fill="#fff" fill-opacity="0.9"/></g></g>
<g transform="translate(650 715) scale(0.1875)"><clipPath id="c3"><path d="M55 600C54 580 55 553 60 530C65 507 73 483 85 460C97 437 112 413 130 390C148 367 167 342 190 320C213 298 242 278 270 260C298 242 330 224 360 210C390 196 420 185 450 175C480 165 512 156 540 150C568 144 593 141 620 138C647 135 673 131 700 132C727 133 755 139 780 145C805 151 827 158 850 170C873 182 899 202 920 220C941 238 960 260 975 280C990 300 998 320 1010 340C1022 360 1035 378 1050 400C1065 422 1086 448 1100 470C1114 492 1127 510 1135 530C1143 550 1149 572 1148 590C1147 608 1140 627 1130 640C1120 653 1105 662 1090 670C1075 678 1058 685 1040 690C1022 695 1003 696 980 700C957 704 927 708 900 715C873 722 847 730 820 740C793 750 767 764 740 775C713 786 685 796 660 805C635 814 613 825 590 830C567 835 540 836 520 835C500 834 482 831 470 825C458 819 457 809 450 800C443 791 440 779 430 770C420 761 407 748 390 745C373 742 352 748 330 750C308 752 282 756 260 755C238 754 220 750 200 745C180 740 158 734 140 725C122 716 108 702 95 690C82 678 72 665 65 650C58 635 56 620 55 600Z"/></clipPath><g clip-path="url(#c3)"><path d="M55 600C54 580 55 553 60 530C65 507 73 483 85 460C97 437 112 413 130 390C148 367 167 342 190 320C213 298 242 278 270 260C298 242 330 224 360 210C390 196 420 185 450 175C480 165 512 156 540 150C568 144 593 141 620 138C647 135 673 131 700 132C727 133 755 139 780 145C805 151 827 158 850 170C873 182 899 202 920 220C941 238 960 260 975 280C990 300 998 320 1010 340C1022 360 1035 378 1050 400C1065 422 1086 448 1100 470C1114 492 1127 510 1135 530C1143 550 1149 572 1148 590C1147 608 1140 627 1130 640C1120 653 1105 662 1090 670C1075 678 1058 685 1040 690C1022 695 1003 696 980 700C957 704 927 708 900 715C873 722 847 730 820 740C793 750 767 764 740 775C713 786 685 796 660 805C635 814 613 825 590 830C567 835 540 836 520 835C500 834 482 831 470 825C458 819 457 809 450 800C443 791 440 779 430 770C420 761 407 748 390 745C373 742 352 748 330 750C308 752 282 756 260 755C238 754 220 750 200 745C180 740 158 734 140 725C122 716 108 702 95 690C82 678 72 665 65 650C58 635 56 620 55 600Z" fill="#7856AE"/><g filter="url(#bl2)"><path d="M650 350C663 344 697 356 730 345C763 334 822 284 850 285C878 286 893 328 900 350C907 372 898 405 890 420C882 435 868 442 850 440C832 438 805 418 780 410C755 402 722 395 700 390C678 385 658 387 650 380C642 373 637 356 650 350Z" fill="#6664B4"/><path d="M250 500C277 473 342 437 400 420C458 403 540 397 600 400C660 403 723 423 760 440C797 457 813 480 820 500C827 520 807 560 800 560C793 560 803 518 780 500C757 482 710 467 660 455C610 443 538 427 480 430C422 433 350 450 310 475C270 500 250 576 240 580C230 584 223 527 250 500Z" fill="#8557AC"/><path d="M810 560C821 539 840 530 870 525C900 520 950 520 990 530C1030 540 1095 568 1110 585C1125 602 1098 631 1080 635C1062 639 1027 612 1000 608C973 604 945 607 920 612C895 617 869 632 850 638C831 644 812 663 805 650C798 637 799 581 810 560Z" fill="#8557AC"/><path d="M850 180C865 181 899 208 920 225C941 242 960 265 975 285C990 305 1014 326 1010 345C1006 364 972 382 950 400C928 418 897 443 880 450C863 457 848 445 850 440C852 435 882 435 890 420C898 405 907 372 900 350C893 328 862 307 850 285C838 263 830 238 830 220C830 202 835 179 850 180Z" fill="#7053AE"/></g><path d="M460 810C468 807 497 813 520 810C543 807 573 798 600 790C627 782 657 772 680 760C703 748 722 738 740 720C758 702 779 661 790 650C801 639 805 648 805 655C805 662 774 683 790 690C806 697 873 693 900 695C927 697 950 696 950 700C950 704 922 711 900 718C878 725 847 733 820 743C793 753 767 767 740 778C713 789 685 799 660 808C635 817 613 828 590 833C567 838 540 839 520 838C500 837 480 833 470 828C460 823 452 813 460 810Z" fill="#5866C2"/><path d="M618 130C630 122 673 124 700 126C727 128 768 133 782 140C796 147 792 162 785 170C778 178 754 183 740 190C726 197 715 207 700 210C685 213 662 216 650 210C638 204 630 188 625 175C620 162 606 138 618 130Z" fill="#828282"/><path d="M235 590C237 572 248 548 260 530C272 512 288 494 310 480C332 466 362 452 390 445C418 438 450 434 480 435C510 436 540 446 570 450C600 454 633 457 660 460C687 463 711 463 730 470C749 477 765 487 775 500C785 513 789 532 790 550C791 568 778 593 780 610C782 627 802 637 800 650C798 663 783 677 770 690C757 703 740 717 720 730C700 743 673 759 650 770C627 781 605 789 580 795C555 801 520 804 500 805C480 806 472 806 460 800C448 794 442 779 430 770C418 761 405 755 390 745C375 735 357 721 340 710C323 699 305 692 290 680C275 668 259 655 250 640C241 625 233 608 235 590Z" fill="#828282"/><path d="M300 720C300 712 317 697 330 700C343 703 380 732 380 740C380 748 343 748 330 745C317 742 300 728 300 720Z" fill="#828282"/><path d="M800 682C792 674 830 651 850 640C870 629 895 620 920 615C945 610 977 609 1000 610C1023 611 1047 615 1060 620C1073 625 1082 630 1080 640C1078 650 1067 671 1050 680C1033 689 1005 693 980 695C955 697 930 692 900 690C870 688 808 690 800 682Z" fill="#828282"/><path d="M130 390C148 384 193 378 240 355C287 332 343 269 410 250C477 231 602 242 640 240M240 355C242 376 248 459 250 480M410 250C417 273 412 367 450 390C488 413 608 390 640 390M60 600C65 577 60 501 90 460C120 419 215 372 240 355M250 480C275 468 342 424 400 410C458 396 540 392 600 395C660 398 722 414 760 430C798 446 818 480 830 490M640 240C636 250 613 282 615 300C617 318 631 342 650 350C669 358 703 352 730 345C757 338 793 331 810 310C827 289 834 243 830 220C826 197 792 178 785 170M850 285C858 296 893 328 900 350C907 372 898 405 890 420C882 435 860 428 850 440C840 452 827 477 830 490C833 503 843 514 870 520C897 526 950 515 990 525C1030 535 1090 571 1110 580M1000 345C992 354 970 382 950 400C930 418 893 430 880 450C867 470 872 508 870 520M1040 420C1032 438 998 508 990 525M830 490C825 502 805 533 800 560C795 587 800 635 800 650M95 690C112 695 166 715 200 720C234 725 283 720 300 720M1080 640C1087 633 1111 617 1120 600C1129 583 1132 550 1135 540M210 590C212 578 210 540 220 520C230 500 262 478 270 470" fill="none" stroke="#BFABE0" stroke-width="4.2" stroke-opacity="0.85" stroke-linecap="round"/><path d="M125 390l5 -6l5 6l-5 6ZM635 240l5 -6l5 6l-5 6ZM235 355l5 -6l5 6l-5 6ZM245 480l5 -6l5 6l-5 6ZM405 250l5 -6l5 6l-5 6ZM635 390l5 -6l5 6l-5 6ZM55 600l5 -6l5 6l-5 6ZM825 490l5 -6l5 6l-5 6ZM780 170l5 -6l5 6l-5 6ZM845 285l5 -6l5 6l-5 6ZM1105 580l5 -6l5 6l-5 6ZM995 345l5 -6l5 6l-5 6ZM865 520l5 -6l5 6l-5 6ZM1035 420l5 -6l5 6l-5 6ZM985 525l5 -6l5 6l-5 6ZM795 650l5 -6l5 6l-5 6ZM90 690l5 -6l5 6l-5 6ZM295 720l5 -6l5 6l-5 6ZM1075 640l5 -6l5 6l-5 6ZM1130 540l5 -6l5 6l-5 6ZM205 590l5 -6l5 6l-5 6ZM265 470l5 -6l5 6l-5 6Z" fill="#fff" fill-opacity="0.9"/></g></g>
<g transform="translate(880 715) scale(0.1875)"><clipPath id="c4"><path d="M85 540C84 522 89 498 95 480C101 462 109 447 120 430C131 413 147 397 160 380C173 363 186 348 200 330C214 312 228 293 245 275C262 257 281 238 300 220C319 202 338 184 360 170C382 156 405 143 430 135C455 127 482 122 510 120C538 118 570 122 600 125C630 128 660 132 690 140C720 148 750 158 780 170C810 182 842 198 870 215C898 232 925 251 950 270C975 289 1000 310 1020 330C1040 350 1056 370 1070 390C1084 410 1096 430 1105 450C1114 470 1121 490 1125 510C1129 530 1130 552 1128 570C1126 588 1120 605 1110 620C1100 635 1087 649 1070 660C1053 671 1032 678 1010 685C988 692 962 697 940 700C918 703 895 703 880 705C865 707 857 704 850 710C843 716 845 728 840 740C835 752 828 768 820 780C812 792 803 806 790 815C777 824 760 830 740 832C720 834 695 833 670 830C645 827 617 822 590 815C563 808 537 800 510 790C483 780 457 768 430 755C403 742 377 728 350 715C323 702 295 691 270 680C245 669 222 660 200 650C178 640 157 631 140 620C123 609 109 598 100 585C91 572 86 558 85 540Z"/></clipPath><g clip-path="url(#c4)"><path d="M85 540C84 522 89 498 95 480C101 462 109 447 120 430C131 413 147 397 160 380C173 363 186 348 200 330C214 312 228 293 245 275C262 257 281 238 300 220C319 202 338 184 360 170C382 156 405 143 430 135C455 127 482 122 510 120C538 118 570 122 600 125C630 128 660 132 690 140C720 148 750 158 780 170C810 182 842 198 870 215C898 232 925 251 950 270C975 289 1000 310 1020 330C1040 350 1056 370 1070 390C1084 410 1096 430 1105 450C1114 470 1121 490 1125 510C1129 530 1130 552 1128 570C1126 588 1120 605 1110 620C1100 635 1087 649 1070 660C1053 671 1032 678 1010 685C988 692 962 697 940 700C918 703 895 703 880 705C865 707 857 704 850 710C843 716 845 728 840 740C835 752 828 768 820 780C812 792 803 806 790 815C777 824 760 830 740 832C720 834 695 833 670 830C645 827 617 822 590 815C563 808 537 800 510 790C483 780 457 768 430 755C403 742 377 728 350 715C323 702 295 691 270 680C245 669 222 660 200 650C178 640 157 631 140 620C123 609 109 598 100 585C91 572 86 558 85 540Z" fill="#7251AB"/><g filter="url(#bl)"><path d="M450 160C478 142 545 134 600 140C655 146 725 170 780 195C835 220 887 254 930 290C973 326 1015 372 1040 410C1065 448 1082 493 1080 520C1078 547 1060 573 1030 570C1000 567 955 518 900 500C845 482 757 473 700 460C643 447 600 438 560 420C520 402 482 378 460 350C438 322 432 282 430 250C428 218 422 178 450 160Z" fill="#8154A9"/><path d="M260 600C287 602 350 630 400 650C450 670 503 697 560 720C617 743 707 772 740 790C773 808 772 823 760 830C748 837 698 834 670 832C642 830 617 824 590 817C563 810 537 802 510 792C483 782 457 770 430 757C403 744 377 730 350 717C323 704 288 695 270 682C252 669 242 654 240 640C238 626 233 598 260 600Z" fill="#6661B6"/></g><g filter="url(#bl2)"><path d="M290 235C297 223 308 207 330 200C352 193 403 187 420 195C437 203 435 238 430 250C425 262 407 262 390 265C373 268 347 269 330 270C313 271 297 276 290 270C283 264 283 247 290 235Z" fill="#5F6AB6"/><path d="M200 420C207 407 225 403 240 390C255 377 273 345 290 340C307 335 323 348 340 360C357 372 375 392 390 410C405 428 420 452 430 470C440 488 435 503 450 520C465 537 495 552 520 570C545 588 573 610 600 630C627 650 658 672 680 690C702 708 723 727 730 740C737 753 733 770 720 770C707 770 677 753 650 740C623 727 590 708 560 690C530 672 497 650 470 630C443 610 420 588 400 570C380 552 365 530 350 520C335 510 322 507 310 510C298 513 292 540 280 540C268 540 253 522 240 510C227 498 207 485 200 470C193 455 193 433 200 420Z" fill="#5F6AB6"/><path d="M680 500C697 498 747 503 780 510C813 517 857 528 880 540C903 552 920 570 920 580C920 590 900 600 880 600C860 600 827 588 800 580C773 572 740 560 720 550C700 540 687 528 680 520C673 512 663 502 680 500Z" fill="#6762B2"/></g><path d="M420 195C422 204 432 232 430 250C428 268 415 275 410 300C405 325 393 372 400 400C407 428 423 453 450 470C477 487 527 492 560 500C593 508 635 517 650 520M300 270C315 269 372 260 390 265C408 270 407 294 410 300M200 330C215 332 267 335 290 340C313 345 332 357 340 360M430 150C442 168 472 228 500 260C528 292 577 322 600 340C623 358 620 362 640 370C660 378 707 382 720 385M510 122C525 143 578 209 600 250C622 291 633 350 640 370M600 125C617 148 680 217 700 260C720 303 705 355 720 385C735 415 778 431 790 440M690 140C703 157 753 190 770 240C787 290 787 407 790 440M770 240C785 248 840 255 860 290C880 325 902 425 890 450C878 475 807 442 790 440M780 170C800 188 863 253 900 280C937 307 983 322 1000 330M860 290C877 305 928 350 960 380C992 410 1031 447 1050 470C1069 493 1071 512 1075 520M890 450C895 462 902 498 920 520C938 542 978 577 1000 580C1022 583 1038 550 1050 540C1062 530 1067 517 1075 520C1083 523 1099 543 1100 560C1101 577 1083 610 1080 620M650 520C655 515 657 503 680 490C703 477 772 448 790 440M650 520C688 523 835 530 880 540C925 550 907 568 920 580C933 592 947 610 960 610C973 610 993 585 1000 580M880 600C877 610 865 642 860 660C855 678 852 702 850 710M460 300C462 317 460 375 470 400C480 425 498 443 520 450C542 457 580 453 600 440C620 427 633 382 640 370M120 480C133 485 175 497 200 510C225 523 262 538 270 560C278 582 272 630 250 640C228 650 158 623 140 620M200 510C200 495 200 435 200 420M270 560C277 552 303 518 310 510M250 640C275 648 348 672 400 690C452 708 510 730 560 750C610 770 677 800 700 810M270 560C292 568 352 588 400 610C448 632 503 660 560 690C617 720 710 773 740 790M560 500C567 510 577 535 600 560C623 585 667 627 700 650C733 673 777 685 800 700C823 715 833 733 840 740M650 520C665 537 710 590 740 620C770 650 815 687 830 700M100 500C105 495 118 473 130 470C142 467 165 468 170 480C175 492 170 527 160 540C150 553 118 557 110 560" fill="none" stroke="#BFABE0" stroke-width="4.2" stroke-opacity="0.85" stroke-linecap="round"/><path d="M415 195l5 -6l5 6l-5 6ZM645 520l5 -6l5 6l-5 6ZM295 270l5 -6l5 6l-5 6ZM405 300l5 -6l5 6l-5 6ZM195 330l5 -6l5 6l-5 6ZM335 360l5 -6l5 6l-5 6ZM425 150l5 -6l5 6l-5 6ZM715 385l5 -6l5 6l-5 6ZM505 122l5 -6l5 6l-5 6ZM635 370l5 -6l5 6l-5 6ZM595 125l5 -6l5 6l-5 6ZM785 440l5 -6l5 6l-5 6ZM685 140l5 -6l5 6l-5 6ZM765 240l5 -6l5 6l-5 6ZM775 170l5 -6l5 6l-5 6ZM995 330l5 -6l5 6l-5 6ZM855 290l5 -6l5 6l-5 6ZM1070 520l5 -6l5 6l-5 6ZM885 450l5 -6l5 6l-5 6ZM1075 620l5 -6l5 6l-5 6ZM995 580l5 -6l5 6l-5 6ZM875 600l5 -6l5 6l-5 6ZM845 710l5 -6l5 6l-5 6ZM455 300l5 -6l5 6l-5 6ZM115 480l5 -6l5 6l-5 6ZM135 620l5 -6l5 6l-5 6ZM195 510l5 -6l5 6l-5 6ZM195 420l5 -6l5 6l-5 6ZM265 560l5 -6l5 6l-5 6ZM305 510l5 -6l5 6l-5 6ZM245 640l5 -6l5 6l-5 6ZM695 810l5 -6l5 6l-5 6ZM735 790l5 -6l5 6l-5 6ZM555 500l5 -6l5 6l-5 6ZM835 740l5 -6l5 6l-5 6ZM825 700l5 -6l5 6l-5 6ZM95 500l5 -6l5 6l-5 6ZM105 560l5 -6l5 6l-5 6Z" fill="#fff" fill-opacity="0.9"/></g></g>
</g>
<g id="panelb">
<text x="84.1" y="800.3" font-size="26.3" text-anchor="middle" textLength="133.5" lengthAdjust="spacing">Converters</text>
<text x="84.4" y="831.6" font-size="26.3" text-anchor="middle" textLength="74.5" lengthAdjust="spacing">n = 76</text>
<text x="285.8" y="904.9" font-size="26.3" text-anchor="start" textLength="199.5" lengthAdjust="spacing">Left hemisphere</text>
<text x="790.4" y="904.9" font-size="26.3" text-anchor="start" textLength="216" lengthAdjust="spacing">Right hemisphere</text>
<text x="1041.3" y="693.8" font-size="23.5" text-anchor="start" textLength="234" lengthAdjust="spacing">Outlier proportion (%)</text>
<text x="1179.5" y="718.3" font-size="23.5" text-anchor="start" textLength="57.5" lengthAdjust="spacing">100.0</text>
<text x="1179.4" y="872.3" font-size="23.5" text-anchor="start" textLength="45.5" lengthAdjust="spacing">&gt;2.5</text>
<text x="1179.5" y="906.8" font-size="23.5" text-anchor="start" textLength="100" lengthAdjust="spacing">0.0 – &lt;2.5</text>
<rect x="1143.3" y="710.4" width="31.1" height="157" fill="url(#cbar)"/>
<path d="M1143.3 750.1h3M1171.4 750.1h3" stroke="#fff" stroke-opacity="0.8" stroke-width="0.8"/>
<path d="M1143.3 790.3h3M1171.4 790.3h3" stroke="#fff" stroke-opacity="0.8" stroke-width="0.8"/>
<path d="M1143.3 831.0h3M1171.4 831.0h3" stroke="#fff" stroke-opacity="0.8" stroke-width="0.8"/>
<rect x="1143.3" y="890" width="33.3" height="18.7" fill="#848484"/>
</g>
</svg>
</body></html>
